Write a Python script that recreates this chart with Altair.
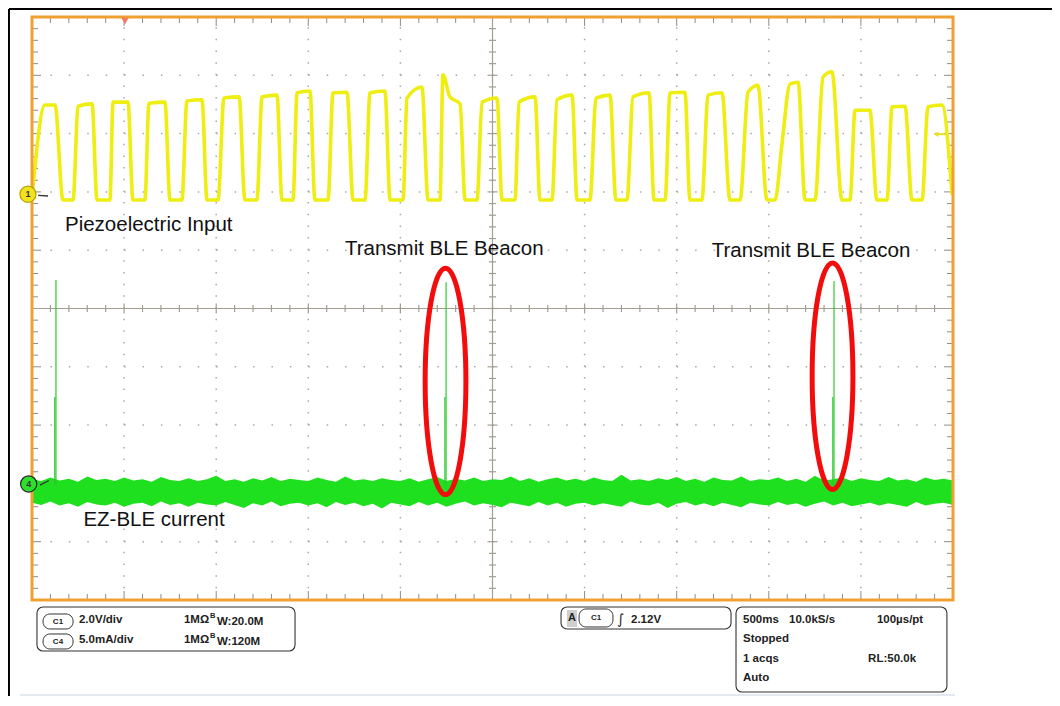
import altair as alt
import pandas as pd

# ---------------- data (time in ms from left edge, 500 ms/div; level in screen divisions 0..10) ----
# CH1 – piezoelectric input (yellow), vertices of the square wave
ch1_t = [0,
         71, 125, 168,
         223, 250, 326, 353,
         423, 440, 521, 548,
         613, 635, 722, 749,
         814, 841, 923, 950,
         1010, 1042, 1124, 1156,
         1221, 1249, 1330, 1357,
         1417, 1439, 1509, 1536,
         1607, 1634, 1710, 1743,
         1808, 1835, 1916, 1944,
         2014, 2036, 2117, 2150,
         2215, 2231, 2269, 2324, 2351,
         2416, 2443, 2524, 2552,
         2622, 2644, 2731, 2758,
         2823, 2850, 2932, 2959,
         3029, 3062, 3138, 3170,
         3230, 3263, 3350, 3377,
         3437, 3464, 3545, 3572,
         3637, 3670, 3746, 3789,
         3844, 3887, 3941, 3990,
         4034, 4072, 4115, 4159, 4197,
         4251, 4294, 4343, 4397,
         4441, 4468, 4549, 4587,
         4642, 4669, 4740, 4777,
         4832, 4864, 4940, 4995]
ch1_v = [6.90,
         8.49, 8.49, 6.86,
         6.86, 8.47, 8.51, 6.86,
         6.86, 8.54, 8.54, 6.86,
         6.86, 8.52, 8.54, 6.86,
         6.86, 8.56, 8.58, 6.86,
         6.86, 8.61, 8.63, 6.86,
         6.86, 8.63, 8.66, 6.86,
         6.86, 8.70, 8.73, 6.86,
         6.86, 8.70, 8.71, 6.86,
         6.86, 8.70, 8.73, 6.86,
         6.86, 8.61, 8.80, 6.86,
         6.86, 9.01, 8.63, 8.51, 6.86,
         6.86, 8.54, 8.61, 6.86,
         6.86, 8.54, 8.63, 6.86,
         6.86, 8.58, 8.66, 6.86,
         6.86, 8.61, 8.66, 6.86,
         6.86, 8.63, 8.70, 6.86,
         6.86, 8.70, 8.71, 6.86,
         6.86, 8.66, 8.70, 6.86,
         6.86, 8.71, 8.83, 6.86,
         6.86, 7.84, 8.85, 8.88, 6.86,
         6.86, 8.97, 9.06, 6.86,
         6.86, 8.40, 8.40, 6.86,
         6.86, 8.46, 8.47, 6.86,
         6.86, 8.46, 8.49, 6.95]

# CH4 – EZ-BLE current (green) noise envelope, sampled every 50 ms
ch4_t = list(range(0, 5001, 50))
ch4_upper = [2.07, 2.04, 2.10, 2.05, 2.08, 2.03, 2.12, 2.06, 2.08, 2.04, 2.10, 2.05, 2.07, 2.03, 2.11, 2.06, 2.04, 2.09, 2.04, 2.07,
             2.13, 2.04, 2.07, 2.03, 2.09, 2.05, 2.11, 2.04, 2.08, 2.06, 2.04, 2.10, 2.06, 2.03, 2.12, 2.05, 2.07, 2.04, 2.09, 2.06,
             2.04, 2.09, 2.03, 2.07, 2.11, 2.04, 2.08, 2.05, 2.10, 2.04, 2.07, 2.06, 2.12, 2.04, 2.09, 2.03, 2.07, 2.10, 2.05, 2.08,
             2.04, 2.10, 2.06, 2.04, 2.15, 2.05, 2.07, 2.04, 2.09, 2.06, 2.11, 2.04, 2.08, 2.03, 2.10, 2.06, 2.05, 2.12, 2.04, 2.07,
             2.06, 2.10, 2.04, 2.08, 2.03, 2.13, 2.05, 2.07, 2.10, 2.04, 2.09, 2.06, 2.04, 2.11, 2.05, 2.07, 2.03, 2.10, 2.06, 2.08,
             2.05]
ch4_lower = [1.67, 1.63, 1.69, 1.62, 1.66, 1.60, 1.68, 1.64, 1.62, 1.67, 1.60, 1.65, 1.67, 1.61, 1.69, 1.63, 1.66, 1.60, 1.67, 1.64,
             1.62, 1.68, 1.63, 1.58, 1.66, 1.62, 1.69, 1.61, 1.65, 1.67, 1.62, 1.66, 1.59, 1.68, 1.63, 1.67, 1.61, 1.65, 1.57, 1.67,
             1.64, 1.61, 1.68, 1.62, 1.67, 1.60, 1.65, 1.69, 1.62, 1.66, 1.63, 1.59, 1.67, 1.64, 1.61, 1.68, 1.62, 1.67, 1.60, 1.65,
             1.67, 1.62, 1.66, 1.63, 1.60, 1.69, 1.64, 1.62, 1.67, 1.58, 1.65, 1.68, 1.62, 1.66, 1.61, 1.67, 1.63, 1.59, 1.67, 1.64,
             1.62, 1.68, 1.63, 1.66, 1.60, 1.65, 1.69, 1.62, 1.67, 1.61, 1.64, 1.67, 1.62, 1.66, 1.63, 1.60, 1.68, 1.62, 1.65, 1.67,
             1.63]
# current spikes (BLE beacon transmissions)
spike_t = [130, 2248, 4354]
spike_base = [1.95, 1.95, 1.95]
spike_peak = [5.49, 5.45, 5.47]
spike_knee = [3.48, 3.48, 3.48]

# highlight ellipses
ell_t = [2245, 4346]
ell_v = [3.75, 3.84]

# annotations
ann_text = ["Piezoelectric Input", "Transmit BLE Beacon", "Transmit BLE Beacon", "EZ-BLE current"]
ann_t = [179, 1699, 3690, 279]
ann_v = [6.33, 5.92, 5.88, 1.27]

# scope readout texts
info_text = ["2.0V/div", "1MΩ", "W:20.0M", "5.0mA/div", "1MΩ", "W:120M", "2.12V",
             "500ms", "10.0kS/s", "100µs/pt", "Stopped", "1 acqs", "RL:50.0k", "Auto"]
info_t = [255, 825, 1004, 255, 825, 1004, 3252, 3860, 4110, 4587, 3860, 3860, 4539, 3860]
info_v = [-0.395, -0.395, -0.43, -0.738, -0.738, -0.772, -0.395,
          -0.395, -0.395, -0.395, -0.72, -1.063, -1.063, -1.389]

assert len(ch1_t) == len(ch1_v)
assert len(ch4_t) == len(ch4_upper) == len(ch4_lower)

# ---------------- helpers ----------------
W, H = 921, 583
MS_PX = 5000 / W
DIV_PX = 10 / H
XS = alt.Scale(domain=[0, 5000], nice=False, zero=False)
YS = alt.Scale(domain=[0, 10], nice=False, zero=False)


def X(f):
    return alt.X(f, type="quantitative", scale=XS, axis=None)


def Y(f):
    return alt.Y(f, type="quantitative", scale=YS, axis=None)


FONT = "Liberation Sans"

# ---------------- graticule ----------------
vgrid = pd.DataFrame({"x": [t for t in range(500, 5000, 500) if t != 2500]})
hgrid = pd.DataFrame({"y": [v for v in range(1, 10) if v != 5]})
grid_v = alt.Chart(vgrid).mark_rule(color="#a8a8a8", strokeWidth=1.5, strokeDash=[1.5, 10.16]).encode(
    x=X("x"), y=alt.value(H), y2=alt.value(0))
grid_h = alt.Chart(hgrid).mark_rule(color="#a8a8a8", strokeWidth=1.5, strokeDash=[1.5, 16.92]).encode(
    y=Y("y"), x=alt.value(0), x2=alt.value(W))

ticks = []
for i in range(1, 50):
    t = i * 100
    L = 9 if i % 5 == 0 else 6
    ticks.append(dict(x=t, x2=t, y=10, y2=10 - L * DIV_PX))
    ticks.append(dict(x=t, x2=t, y=0, y2=L * DIV_PX))
for i in range(1, 50):
    v = i * 0.2
    L = 9 if i % 5 == 0 else 6
    ticks.append(dict(x=0, x2=L * MS_PX, y=v, y2=v))
    ticks.append(dict(x=5000, x2=5000 - L * MS_PX, y=v, y2=v))
border_ticks = alt.Chart(pd.DataFrame(ticks)).mark_rule(color="#8c8c8c", strokeWidth=1).encode(
    x=X("x"), x2="x2", y=Y("y"), y2="y2")

cross = [dict(x=0, x2=5000, y=5, y2=5), dict(x=2500, x2=2500, y=0, y2=10)]
for i in range(1, 50):
    t = i * 100
    L = 5 if i % 5 == 0 else 3.5
    cross.append(dict(x=t, x2=t, y=5 - L * DIV_PX, y2=5 + L * DIV_PX))
for i in range(1, 50):
    v = i * 0.2
    L = 5 if i % 5 == 0 else 3.5
    cross.append(dict(x=2500 - L * MS_PX, x2=2500 + L * MS_PX, y=v, y2=v))
cross_layer = alt.Chart(pd.DataFrame(cross)).mark_rule(color="#a39e92", strokeWidth=1.2).encode(
    x=X("x"), x2="x2", y=Y("y"), y2="y2")

# ---------------- traces ----------------
ch4_df = pd.DataFrame({"t": ch4_t, "hi": ch4_upper, "lo": ch4_lower})
ch4_band = alt.Chart(ch4_df).mark_area(color="#1fe01f", opacity=1, interpolate="linear").encode(
    x=X("t"), y=Y("hi"), y2="lo")

sp_df = pd.DataFrame({"t": spike_t, "b": spike_base, "p": spike_peak, "k": spike_knee})
spikes = alt.Chart(sp_df).mark_rule(color="#2ccc2c", strokeWidth=1.2).encode(
    x=X("t"), y=Y("b"), y2="p")
spikes_low = alt.Chart(sp_df).mark_rule(color="#2ccc2c", strokeWidth=1.2, xOffset=-1.2).encode(
    x=X("t"), y=Y("b"), y2="k")

ch1_df = pd.DataFrame({"t": ch1_t, "v": ch1_v, "i": list(range(len(ch1_t)))})
ch1_line = alt.Chart(ch1_df).mark_line(color="#eeee12", strokeWidth=3.6, strokeJoin="round",
                                       interpolate="monotone").encode(
    x=X("t"), y=Y("v"), order="i:Q")

ELL = ("M0,-1 C0.0994,-1 0.18,-0.5523 0.18,0 C0.18,0.5523 0.0994,1 0,1 "
       "C-0.0994,1 -0.18,0.5523 -0.18,0 C-0.18,-0.5523 -0.0994,-1 0,-1 Z")
ellipses = alt.Chart(pd.DataFrame({"t": ell_t, "v": ell_v})).mark_point(
    shape=ELL, filled=False, color="#f20c0c", strokeWidth=5, opacity=1).encode(
    x=X("t"), y=Y("v"), size=alt.value(51300))

border = alt.Chart(pd.DataFrame({"x": [0], "x2": [5000], "y": [0], "y2": [10]})).mark_rect(
    fill="transparent", stroke="#f0a030", strokeWidth=3).encode(x=X("x"), x2="x2", y=Y("y"), y2="y2")

# ---------------- markers ----------------
mk_df = pd.DataFrame({"t": [-22, -18], "v": [6.96, 1.99], "lab": ["1", "4"],
                      "fill": ["#f2e21c", "#2ee02e"], "st": ["#b5a400", "#222222"]})
markers = alt.Chart(mk_df).mark_point(filled=True, shape="circle", strokeWidth=1.2, opacity=1).encode(
    x=X("t"), y=Y("v"), size=alt.value(260),
    fill=alt.Fill("fill:N", scale=None), stroke=alt.Stroke("st:N", scale=None))
marker_txt = alt.Chart(mk_df).mark_text(font=FONT, fontSize=9, fontWeight="bold", color="#333333",
                                        baseline="middle", align="center").encode(
    x=X("t"), y=Y("v"), text="lab:N")
ptr_df = pd.DataFrame({"x": [33, 43], "x2": [87, 92], "y": [6.94, 1.97], "y2": [6.93, 2.05]})
pointers = alt.Chart(ptr_df).mark_rule(color="#333333", strokeWidth=1.3).encode(
    x=X("x"), x2="x2", y=Y("y"), y2="y2")
trig = alt.Chart(pd.DataFrame({"t": [505], "v": [9.93]})).mark_point(
    shape="triangle-down", filled=True, color="#f27b5f", opacity=1).encode(
    x=X("t"), y=Y("v"), size=alt.value(55))
lvl = alt.Chart(pd.DataFrame({"t": [4908], "v": [7.99]})).mark_point(
    shape="triangle-left", filled=True, color="#e8e020", opacity=1).encode(
    x=X("t"), y=Y("v"), size=alt.value(30))
lvl_line = alt.Chart(pd.DataFrame({"x": [4908], "x2": [4965], "y": [7.99]})).mark_rule(
    color="#e8e020", strokeWidth=2).encode(x=X("x"), x2="x2", y=Y("y"))

# ---------------- annotations ----------------
ann = alt.Chart(pd.DataFrame({"t": ann_t, "v": ann_v, "s": ann_text})).mark_text(
    font=FONT, fontSize=20.5, color="#111111", align="left", baseline="alphabetic").encode(
    x=X("t"), y=Y("v"), text="s:N")

# ---------------- readout boxes ----------------
boxes_df = pd.DataFrame({"x": [27, 2872, 3822], "x2": [1428, 3795, 4967],
                         "y": [-0.12, -0.12, -0.12], "y2": [-0.875, -0.497, -1.578]})
boxes = alt.Chart(boxes_df).mark_rect(fill="white", stroke="#333333", strokeWidth=1.1, cornerRadius=6).encode(
    x=X("x"), x2="x2", y=Y("y"), y2="y2")
gray_df = pd.DataFrame({"x": [2904], "x2": [2959], "y": [-0.172], "y2": [-0.463]})
gray_sq = alt.Chart(gray_df).mark_rect(fill="#cfcfcf").encode(x=X("x"), x2="x2", y=Y("y"), y2="y2")
pills_df = pd.DataFrame({"x": [60, 60, 2970], "x2": [223, 223, 3154],
                         "y": [-0.24, -0.583, -0.154], "y2": [-0.497, -0.84, -0.463]})
pills = alt.Chart(pills_df).mark_rect(fill="white", stroke="#333333", strokeWidth=1, cornerRadius=7).encode(
    x=X("x"), x2="x2", y=Y("y"), y2="y2")
pill_txt_df = pd.DataFrame({"t": [141, 141, 3062, 2932], "v": [-0.369, -0.712, -0.309, -0.309],
                            "s": ["C1", "C4", "C1", "A"], "fs": [8, 8, 8, 11]})
pill_txt = alt.Chart(pill_txt_df).mark_text(font=FONT, fontWeight="bold", color="#222222",
                                            align="center", baseline="middle").encode(
    x=X("t"), y=Y("v"), text="s:N", size=alt.Size("fs:Q", scale=None))
info = alt.Chart(pd.DataFrame({"t": info_t, "v": info_v, "s": info_text})).mark_text(
    font=FONT, fontSize=11.5, fontWeight="bold", color="#222222", align="left", baseline="alphabetic").encode(
    x=X("t"), y=Y("v"), text="s:N")
bsub = alt.Chart(pd.DataFrame({"t": [966, 966], "v": [-0.31, -0.653], "s": ["B", "B"]})).mark_text(
    font=FONT, fontSize=7.5, fontWeight="bold", color="#222222", align="left", baseline="alphabetic").encode(
    x=X("t"), y=Y("v"), text="s:N")
slope = alt.Chart(pd.DataFrame({"t": [3176], "v": [-0.42], "s": ["∫"]})).mark_text(
    font="DejaVu Sans", fontSize=14, color="#222222", align="left", baseline="alphabetic").encode(
    x=X("t"), y=Y("v"), text="s:N")

# ---------------- outer frame and faint footer line ----------------
frame_df = pd.DataFrame({"x": [-125, -125], "x2": [5600, -125], "y": [10.137, 10.137], "y2": [10.137, -1.75]})
frame = alt.Chart(frame_df).mark_rule(color="#000000", strokeWidth=2).encode(
    x=X("x"), x2="x2", y=Y("y"), y2="y2")
foot = alt.Chart(pd.DataFrame({"x": [-65], "x2": [5011], "y": [-1.63]})).mark_rule(
    color="#e3e9f0", strokeWidth=2).encode(x=X("x"), x2="x2", y=Y("y"))

chart = alt.layer(
    grid_v, grid_h, border_ticks, cross_layer,
    ch4_band, spikes, spikes_low, ch1_line, ellipses, border,
    markers, marker_txt, pointers, trig, lvl, lvl_line, ann,
    boxes, gray_sq, pills, pill_txt, info, bsub, slope, foot, frame,
).properties(
    width=W, height=H,
    padding={"left": 24, "top": 9, "right": 99, "bottom": 96},
    autosize=alt.AutoSizeParams(type="none"),
    background="white",
).configure_view(stroke="transparent")

chart.save("out.html", embed_options={"renderer": "svg", "actions": False})
